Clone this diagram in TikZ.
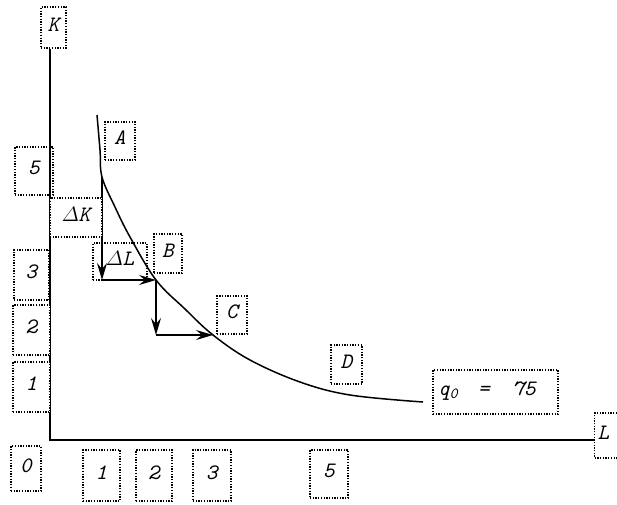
\documentclass[tikz,border=0pt]{standalone}
\usepackage{amsmath}
\usetikzlibrary{arrows.meta}

\tikzset{
  lbl/.style={draw, line width=1.2pt, dash pattern=on 1.3pt off 1.4pt, inner sep=0pt,
    font=\fontsize{22}{26}\selectfont\ttfamily\itshape, text height=14pt, text depth=7pt},
  cover/.style={lbl, fill=white},
  axisline/.style={line width=2pt},
  isoq/.style={line width=1.5pt},
  stepline/.style={line width=1.5pt, -{Stealth[length=17pt,width=10pt,inset=6pt]}}
}

\begin{document}
\begin{tikzpicture}[x=1pt,y=-1pt]
\clip (0,0) rectangle (617,504);
\fill[white] (0,0) rectangle (617,504);

% points on the isoquant
\coordinate (O) at (50,440);
\coordinate (ptA) at (102,177);
\coordinate (ptB) at (156,280);
\coordinate (ptC) at (213,335);

% labels under the axes
\node[lbl, minimum width=25pt, minimum height=41pt] (nK) at (53.5,27.5) {K};
\node[lbl, minimum height=45pt, inner xsep=3pt, text width=34pt, align=left, anchor=west] (nL) at (594,435.5) {L};
\node[lbl, minimum width=38pt, minimum height=48pt] (nKfive) at (34,171) {5};
\node[lbl, minimum width=35pt, minimum height=50pt] (nKthree) at (31.5,275) {3};

% the isoquant
\draw[isoq] plot[smooth, tension=0.6] coordinates {(97,115) (100,150) (ptA) (115,207) (130,237) (ptB) (185,309) (ptC) (250,360) (300,382) (350,395) (423,402)};

% steps from A to C
\draw[stepline] (ptA) -- (ptA |- ptB);
\draw[stepline] (ptA |- ptB) -- (ptB);
\draw[stepline] (ptB) -- (ptB |- ptC);
\draw[stepline] (ptB |- ptC) -- (ptC);

% axes
\draw[axisline] (O |- nK.south) -- (O) -- (nL.west |- O);

% labels over the axes
\node[cover, minimum width=52pt, minimum height=39pt] (nDK) at (76,217.5) {$\varDelta$K};
\node[cover, minimum width=37pt, minimum height=50pt] (nKtwo) at (31.5,330) {2};
\node[cover, minimum width=37pt, minimum height=50pt] (nKone) at (31.5,387) {1};

\node[lbl, minimum width=30pt, minimum height=38pt] (nA) at (120,141) {A};
\node[lbl, minimum width=54pt, minimum height=37pt] (nDL) at (120,261.5) {$\varDelta$L};
\node[lbl, minimum width=28pt, minimum height=39pt] (nB) at (168,253.5) {B};
\node[lbl, minimum width=30pt, minimum height=38pt] (nC) at (232,315) {C};
\node[lbl, minimum width=31pt, minimum height=39pt] (nD) at (346.5,364.5) {D};
\node[lbl, minimum height=44pt, inner xsep=5pt, text width=115pt, align=left] (nQ) at (495.5,392)
  {q\textsubscript{0}\hspace{20pt}=\hspace{23pt}75};

\node[lbl, minimum width=30pt, minimum height=45pt] (nZero) at (26,468.5) {0};
\node[lbl, minimum width=37pt, minimum height=51pt] (nLone) at (101.5,475.5) {1};
\node[lbl, minimum width=36pt, minimum height=51pt] (nLtwo) at (154,475.5) {2};
\node[lbl, minimum width=38pt, minimum height=51pt] (nLthree) at (212,475.5) {3};
\node[lbl, minimum width=38pt, minimum height=48pt] (nLfive) at (329,474) {5};
\end{tikzpicture}
\end{document}
